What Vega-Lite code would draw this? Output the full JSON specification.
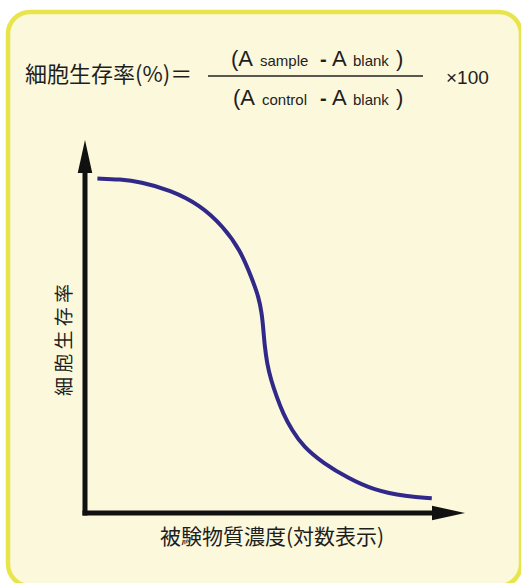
{
  "$schema": "https://vega.github.io/schema/vega-lite/v6.json",
  "autosize": {"type": "none"},
  "padding": {"left": 8, "top": 12, "right": 0, "bottom": 0},
  "width": 513,
  "height": 574,
  "background": "#ffffff",
  "config": {
    "view": {"fill": "#fbf8dc", "stroke": "#e8e44c", "strokeWidth": 4.5, "cornerRadius": 22}
  },
  "data": {
    "values": [
      {"logConc": 0.31, "viability": 100.35},
      {"logConc": 0.88, "viability": 100.1},
      {"logConc": 1.38, "viability": 99.39},
      {"logConc": 2.13, "viability": 96.9},
      {"logConc": 2.88, "viability": 92.4},
      {"logConc": 3.46, "viability": 85.89},
      {"logConc": 3.88, "viability": 78.9},
      {"logConc": 4.17, "viability": 70.5},
      {"logConc": 4.34, "viability": 64.89},
      {"logConc": 4.42, "viability": 59.91},
      {"logConc": 4.46, "viability": 54.9},
      {"logConc": 4.49, "viability": 50.4},
      {"logConc": 4.55, "viability": 44.91},
      {"logConc": 4.65, "viability": 39.9},
      {"logConc": 4.79, "viability": 34.89},
      {"logConc": 4.95, "viability": 29.91},
      {"logConc": 5.17, "viability": 24.9},
      {"logConc": 5.46, "viability": 19.89},
      {"logConc": 5.95, "viability": 15.0},
      {"logConc": 6.575, "viability": 10.5},
      {"logConc": 7.21, "viability": 6.9},
      {"logConc": 8.04, "viability": 4.89},
      {"logConc": 8.67, "viability": 4.41}
    ]
  },
  "encoding": {
    "x": {"type": "quantitative", "scale": {"domain": [-1.925, 10.9], "nice": false, "zero": false}, "axis": null},
    "y": {"type": "quantitative", "scale": {"domain": [-21.9, 150.3], "nice": false, "zero": false}, "axis": null}
  },
  "layer": [
    {
      "mark": {"type": "line", "interpolate": "basis", "color": "#30298a", "strokeWidth": 4},
      "encoding": {"x": {"field": "logConc", "type": "quantitative"}, "y": {"field": "viability", "type": "quantitative"}}
    },
    {
      "data": {"values": [{}]},
      "mark": {"type": "rule", "color": "#111111", "strokeWidth": 5, "strokeCap": "square"},
      "encoding": {"x": {"datum": 0}, "y": {"datum": 0}, "y2": {"datum": 102}}
    },
    {
      "data": {"values": [{}]},
      "mark": {"type": "rule", "color": "#111111", "strokeWidth": 5, "strokeCap": "square"},
      "encoding": {"y": {"datum": 0}, "x": {"datum": 0}, "x2": {"datum": 8.675}}
    },
    {
      "data": {"values": [{}]},
      "mark": {"type": "point", "shape": "M-0.44,1L0,-1L0.44,1Z", "size": 1089, "filled": true, "opacity": 1, "color": "#111111", "strokeWidth": 0},
      "encoding": {"x": {"datum": 0}, "y": {"datum": 106.95}}
    },
    {
      "data": {"values": [{}]},
      "mark": {"type": "point", "shape": "M-1,-0.44L1,0L-1,0.44Z", "size": 1089, "filled": true, "opacity": 1, "color": "#111111", "strokeWidth": 0},
      "encoding": {"x": {"datum": 9.0875}, "y": {"datum": 0}}
    },
    {
      "data": {"values": [{}]},
      "mark": {"type": "rule", "color": "#222222", "strokeWidth": 1.5},
      "encoding": {"y": {"datum": 131.1}, "x": {"datum": 3.075}, "x2": {"datum": 8.45}}
    },
    {
      "data": {"values": [{"t": "細胞生存率(%)＝"}]},
      "mark": {"type": "text", "font": "Noto Sans CJK JP", "fontSize": 22, "align": "left", "baseline": "middle", "color": "#1e1e1e"},
      "encoding": {"text": {"field": "t"}, "x": {"datum": -1.5}, "y": {"datum": 131.4}}
    },
    {
      "data": {"values": [{"t": "(A"}]},
      "mark": {"type": "text", "font": "Liberation Sans", "fontSize": 22, "align": "left", "baseline": "alphabetic", "color": "#1e1e1e"},
      "encoding": {"text": {"field": "t"}, "x": {"datum": 3.65}, "y": {"datum": 134.1}}
    },
    {
      "data": {"values": [{"t": "sample"}]},
      "mark": {"type": "text", "font": "Liberation Sans", "fontSize": 15, "align": "left", "baseline": "alphabetic", "color": "#1e1e1e"},
      "encoding": {"text": {"field": "t"}, "x": {"datum": 4.375}, "y": {"datum": 134.1}}
    },
    {
      "data": {"values": [{"t": "-"}]},
      "mark": {"type": "text", "font": "Liberation Sans", "fontSize": 20, "fontWeight": "bold", "align": "left", "baseline": "alphabetic", "color": "#1e1e1e"},
      "encoding": {"text": {"field": "t"}, "x": {"datum": 5.875}, "y": {"datum": 134.1}}
    },
    {
      "data": {"values": [{"t": "A"}]},
      "mark": {"type": "text", "font": "Liberation Sans", "fontSize": 22, "align": "left", "baseline": "alphabetic", "color": "#1e1e1e"},
      "encoding": {"text": {"field": "t"}, "x": {"datum": 6.175}, "y": {"datum": 134.1}}
    },
    {
      "data": {"values": [{"t": "blank"}]},
      "mark": {"type": "text", "font": "Liberation Sans", "fontSize": 15, "align": "left", "baseline": "alphabetic", "color": "#1e1e1e"},
      "encoding": {"text": {"field": "t"}, "x": {"datum": 6.7}, "y": {"datum": 134.1}}
    },
    {
      "data": {"values": [{"t": ")"}]},
      "mark": {"type": "text", "font": "Liberation Sans", "fontSize": 22, "align": "left", "baseline": "alphabetic", "color": "#1e1e1e"},
      "encoding": {"text": {"field": "t"}, "x": {"datum": 7.775}, "y": {"datum": 134.1}}
    },
    {
      "data": {"values": [{"t": "(A"}]},
      "mark": {"type": "text", "font": "Liberation Sans", "fontSize": 22, "align": "left", "baseline": "alphabetic", "color": "#1e1e1e"},
      "encoding": {"text": {"field": "t"}, "x": {"datum": 3.7}, "y": {"datum": 122.4}}
    },
    {
      "data": {"values": [{"t": "control"}]},
      "mark": {"type": "text", "font": "Liberation Sans", "fontSize": 15, "align": "left", "baseline": "alphabetic", "color": "#1e1e1e"},
      "encoding": {"text": {"field": "t"}, "x": {"datum": 4.425}, "y": {"datum": 122.4}}
    },
    {
      "data": {"values": [{"t": "-"}]},
      "mark": {"type": "text", "font": "Liberation Sans", "fontSize": 20, "fontWeight": "bold", "align": "left", "baseline": "alphabetic", "color": "#1e1e1e"},
      "encoding": {"text": {"field": "t"}, "x": {"datum": 5.875}, "y": {"datum": 122.4}}
    },
    {
      "data": {"values": [{"t": "A"}]},
      "mark": {"type": "text", "font": "Liberation Sans", "fontSize": 22, "align": "left", "baseline": "alphabetic", "color": "#1e1e1e"},
      "encoding": {"text": {"field": "t"}, "x": {"datum": 6.175}, "y": {"datum": 122.4}}
    },
    {
      "data": {"values": [{"t": "blank"}]},
      "mark": {"type": "text", "font": "Liberation Sans", "fontSize": 15, "align": "left", "baseline": "alphabetic", "color": "#1e1e1e"},
      "encoding": {"text": {"field": "t"}, "x": {"datum": 6.7}, "y": {"datum": 122.4}}
    },
    {
      "data": {"values": [{"t": ")"}]},
      "mark": {"type": "text", "font": "Liberation Sans", "fontSize": 22, "align": "left", "baseline": "alphabetic", "color": "#1e1e1e"},
      "encoding": {"text": {"field": "t"}, "x": {"datum": 7.775}, "y": {"datum": 122.4}}
    },
    {
      "data": {"values": [{"t": "×100"}]},
      "mark": {"type": "text", "font": "Liberation Sans", "fontSize": 19, "align": "left", "baseline": "alphabetic", "color": "#1e1e1e"},
      "encoding": {"text": {"field": "t"}, "x": {"datum": 9.025}, "y": {"datum": 128.7}}
    },
    {
      "data": {"values": [{"t": "被験物質濃度(対数表示)"}]},
      "mark": {"type": "text", "font": "Noto Sans CJK JP", "fontSize": 21, "align": "center", "baseline": "middle", "color": "#1e1e1e"},
      "encoding": {"text": {"field": "t"}, "x": {"datum": 4.675}, "y": {"datum": -7.5}}
    },
    {
      "data": {"values": [{"t": "細 胞 生 存 率"}]},
      "mark": {"type": "text", "font": "Noto Sans CJK JP", "fontSize": 19, "align": "center", "baseline": "middle", "angle": 270, "color": "#1e1e1e"},
      "encoding": {"text": {"field": "t"}, "x": {"datum": -0.5}, "y": {"datum": 51.9}}
    }
  ]
}
